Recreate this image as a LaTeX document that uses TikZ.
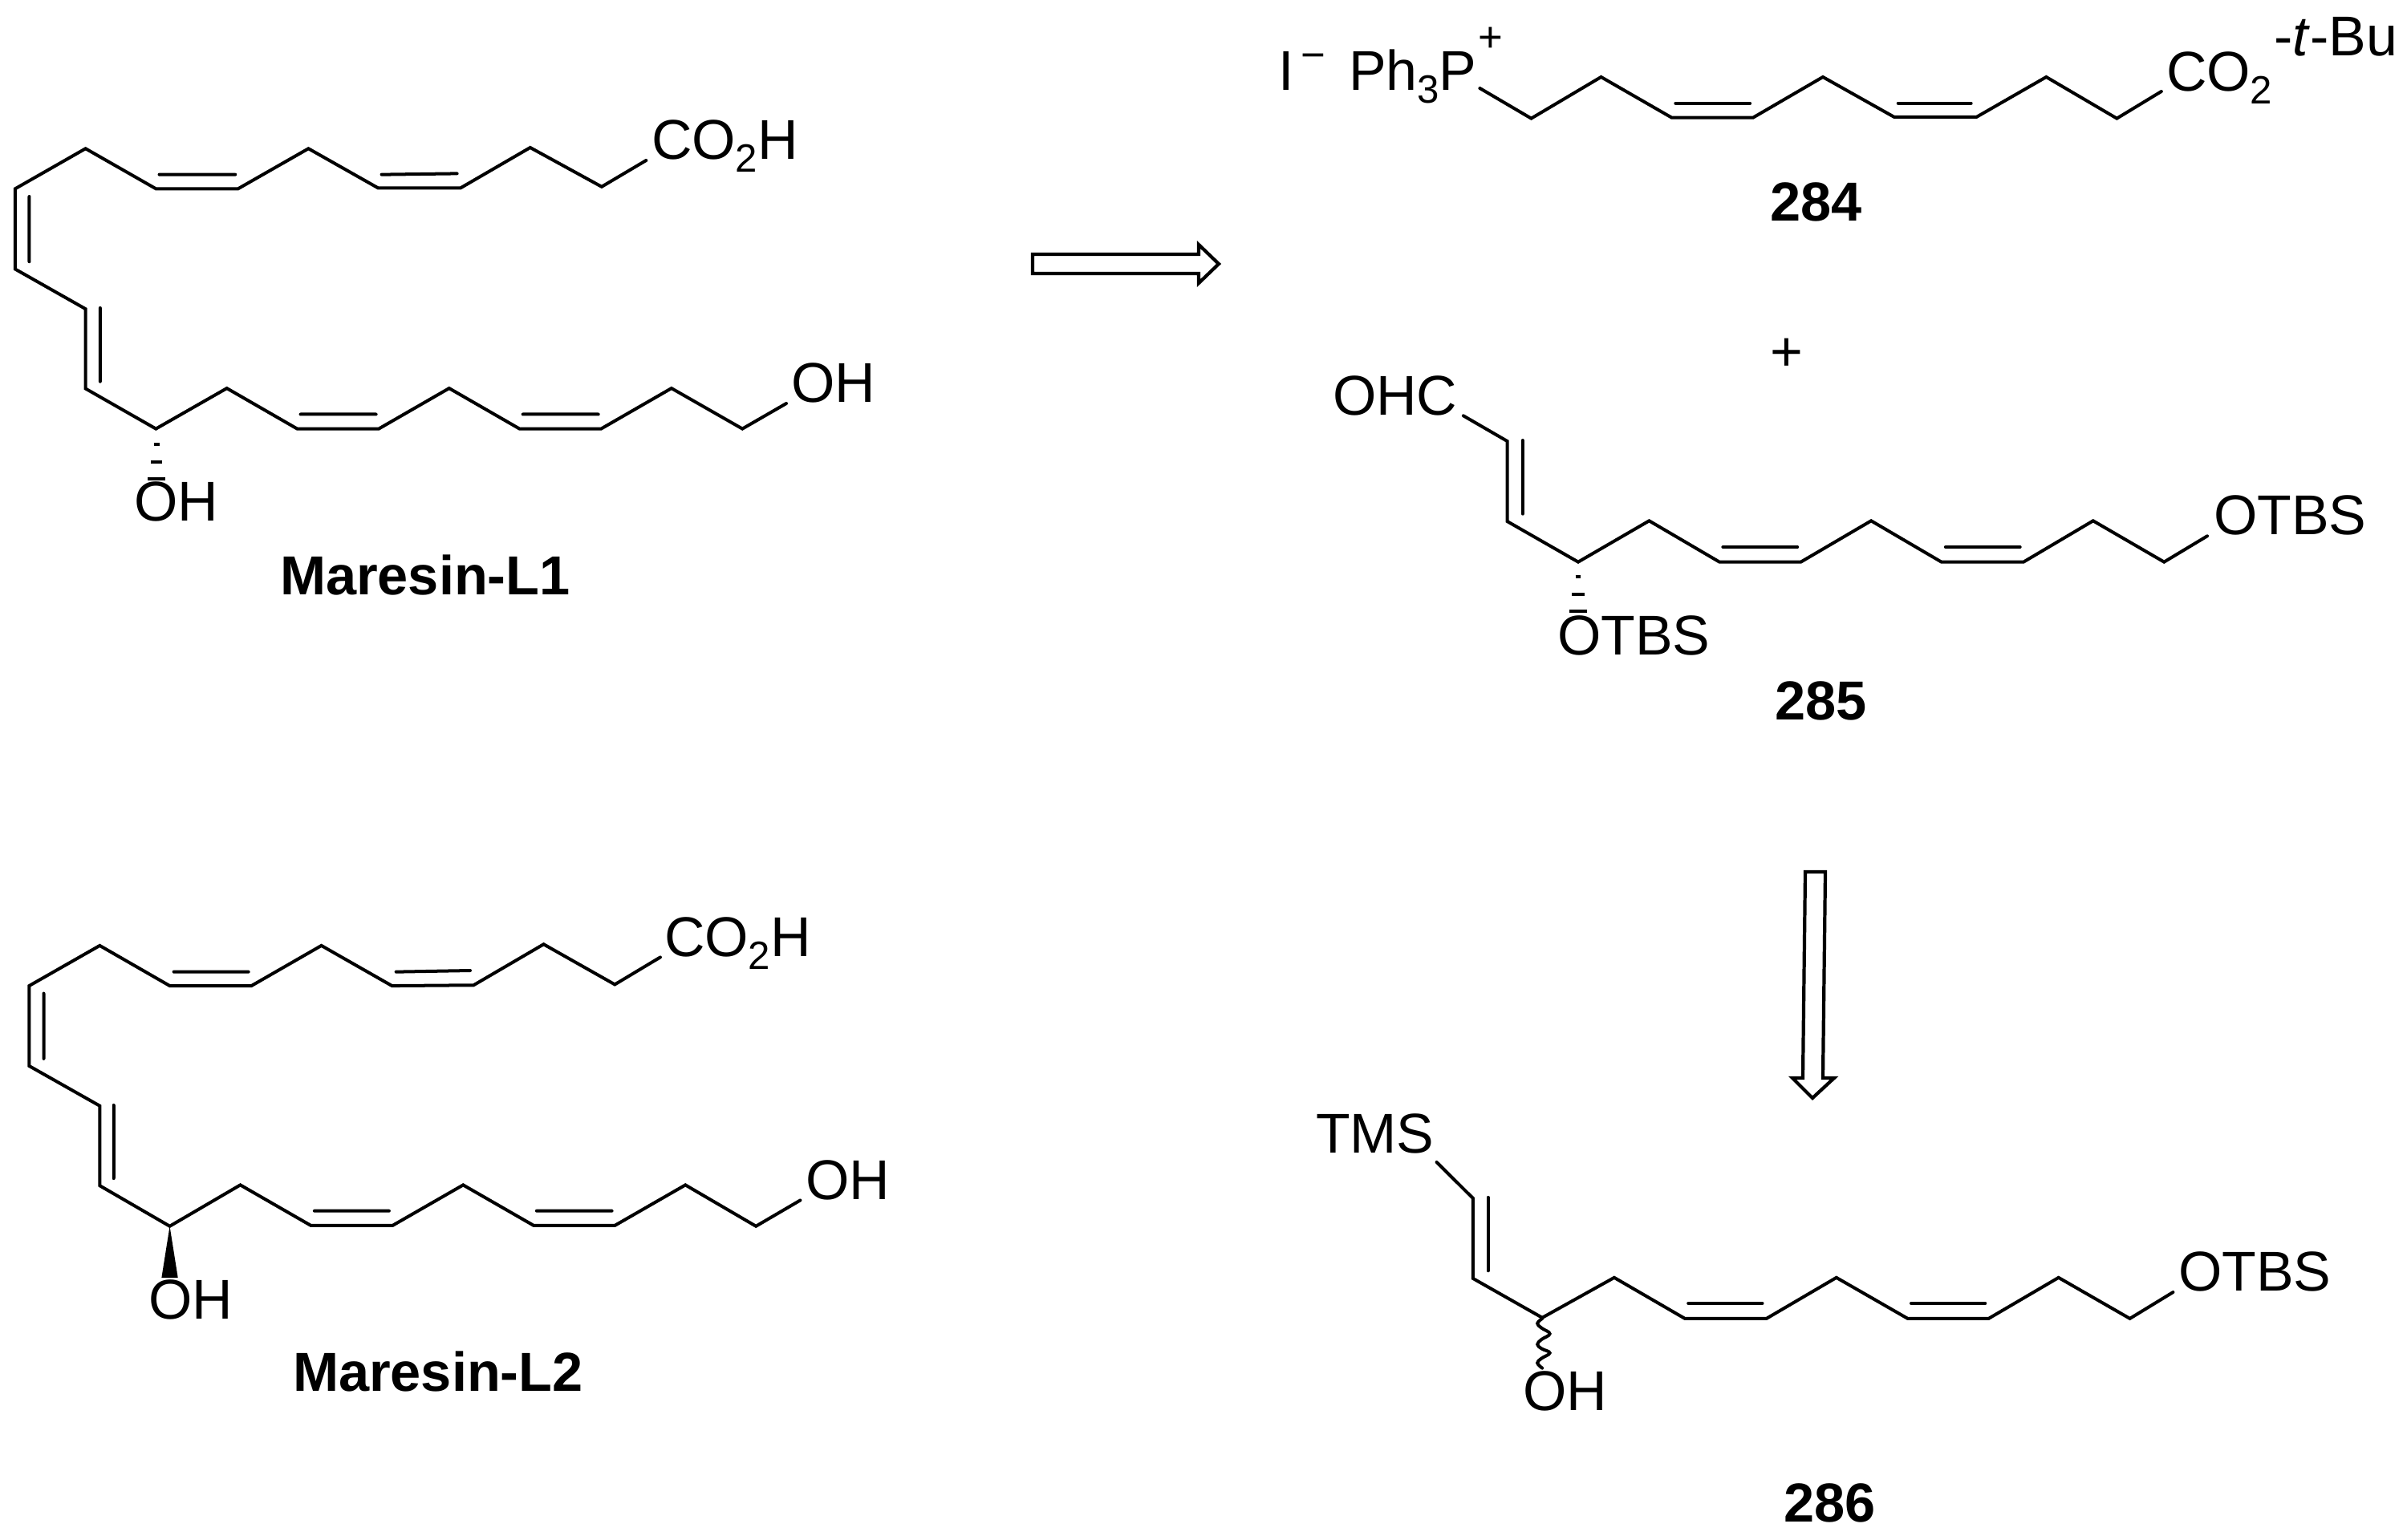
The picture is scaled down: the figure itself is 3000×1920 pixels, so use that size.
\documentclass[tikz,border=0pt]{standalone}
\usepackage{fontspec}
\setmainfont{Liberation Sans}
\newcommand{\chemsub}[1]{\raisebox{-0.24em}{\fontsize{28}{28}\selectfont #1}}
\tikzset{
  bond/.style={line width=3.8pt*0.6,line cap=round,line join=miter,black},
  lab/.style={inner sep=0pt,outer sep=0pt,anchor=base west,font=\fontsize{39.8}{40}\selectfont},
  cpd/.style={inner sep=0pt,outer sep=0pt,anchor=base west,font=\fontsize{39}{40}\selectfont\bfseries},
  charge/.style={inner sep=0pt,outer sep=0pt,anchor=center,font=\fontsize{30}{30}\selectfont},
  openarrow/.style={line width=4pt*0.6,line join=miter,black,fill=white}
}
\begin{document}
\begin{tikzpicture}[x=0.02cm,y=-0.02cm]
\useasboundingbox (0,0) rectangle (3000,1920);

% Maresin-L1
\begin{scope}[shift={(0,120)},xscale=.7015,yscale=.4209]
\draw[bond] (1148,190)--(1069,268)--(942,152)--(818,272)--(672,272)--(548,155)--(423,274)--(277,274)--(152,155)--(27,274)--(27,512)--(152,630)--(152,866)--(277,985)--(403,865)--(528,985)--(673,985)--(798,865)--(923,985)--(1068,985)--(1193,865)--(1319,985)--(1397,910);
\draw[bond] (283,232)--(418,232) (678,232)--(812,229) (52,297)--(52,490) (178,627)--(178,845) (534,942)--(668,942) (929,942)--(1063,942);
\draw[bond,line cap=butt] (273,1031)--(283,1031) (268,1083)--(288,1083) (263,1133)--(293,1133);
\end{scope}
\node[lab] (l1acid) at (812,198) {CO\chemsub{2}H};
\node[lab] (l1oh) at (986,501) {OH};
\node[lab] (l1ohb) at (167,649.5) {OH};
\node[cpd] (l1name) at (349,741) {Maresin-L1};

% Maresin-L2
\begin{scope}[shift={(0,1130)},xscale=.727,yscale=.4145]
\draw[bond] (1132,153)--(1054,235)--(932,114)--(812,237)--(672,239)--(551,118)--(431,239)--(291,239)--(171,118)--(50,239)--(50,480)--(171,600)--(171,840)--(291,962)--(412,838)--(533,960)--(673,960)--(794,838)--(915,960)--(1054,960)--(1175,838)--(1296,962)--(1372,884);
\draw[bond] (298,197)--(426,197) (679,197)--(806,193) (75,262)--(75,458) (195,598)--(195,818) (539,916)--(667,916) (920,916)--(1049,916);
\fill[black] (291,962)--(277,1117)--(305,1117)--cycle;
\end{scope}
\node[lab] (l2acid) at (828,1192) {CO\chemsub{2}H};
\node[lab] (l2oh) at (1004,1495) {OH};
\node[lab] (l2ohb) at (185,1644) {OH};
\node[cpd] (l2name) at (365,1734) {Maresin-L2};

% 284
\begin{scope}[shift={(1500,0)},xscale=.9566,yscale=.3333]
\draw[bond] (360,330)--(427,443)--(518,288)--(610,440)--(716,440)--(807,288)--(900,438)--(1007,438)--(1098,288)--(1190,443)--(1248,342);
\draw[bond] (615,386)--(712,386) (905,386)--(1000,386);
\end{scope}
\node[lab] (iodide) at (1593,112) {I};
\node[charge] (iminus) at (1637,77) {−};
\node[lab] (ph3p) at (1681,112) {Ph\chemsub{3}P};
\node[charge] (pplus) at (1857.5,49) {+};
\node[lab] (co2a) at (2700,113) {CO\chemsub{2}};
\node[lab] (tbu) at (2834,69) {-\textit{t}-Bu};
\node[cpd] (n284) at (2206,275) {284};

\node[lab,anchor=center] (plus) at (2227,442) {+};

% 285
\begin{scope}[shift={(1640,420)},xscale=.8673,yscale=.3333]
\draw[bond] (212,295)--(275,390)--(275,690)--(377,842)--(479,688)--(580,842)--(697,842)--(798,688)--(899,842)--(1017,842)--(1117,688)--(1219,842)--(1281,745);
\draw[bond] (297,387)--(297,662) (585,786)--(692,786) (905,786)--(1012,786);
\draw[bond,line cap=butt] (373,897)--(381,897) (368,963)--(386,963) (364,1025)--(390,1025);
\end{scope}
\node[lab] (ohc) at (1661,517) {OHC};
\node[lab] (otbsa) at (2759,666) {OTBS};
\node[lab] (otbsb) at (1941,816) {OTBS};
\node[cpd] (n285) at (2212,897) {285};

% 286
\begin{scope}[shift={(1600,1360)},xscale=.8546,yscale=.3571]
\draw[bond] (223,249)--(276,375)--(276,655)--(377,792)--(482,652)--(585,795)--(704,795)--(806,652)--(910,795)--(1028,795)--(1130,652)--(1234,795)--(1297,703);
\draw[bond] (298,372)--(298,628) (590,742)--(698,742) (915,742)--(1023,742);
\draw[bond] plot[smooth,tension=.7] coordinates {(377,795)(370,812)(376,828)(388,848)(376,868)(370,885)(376,900)(388,915)(376,934)(370,950)(377,968)};
\end{scope}
\node[lab] (tms) at (1640,1437.5) {TMS};
\node[lab] (otbsc) at (2715,1609) {OTBS};
\node[lab] (ohd) at (1898,1758.5) {OH};
\node[cpd] (n286) at (2223,1897) {286};

% retrosynthesis arrows
\draw[openarrow] (1287,317)--(1494,317)--(1494,305)--(1519,329)--(1494,353)--(1494,341)--(1287,341)--cycle;
\draw[openarrow] (2250,1087)--(2275,1087)--(2272,1344)--(2286,1344)--(2259,1369)--(2234,1344)--(2247,1344)--cycle;
\end{tikzpicture}
\end{document}
